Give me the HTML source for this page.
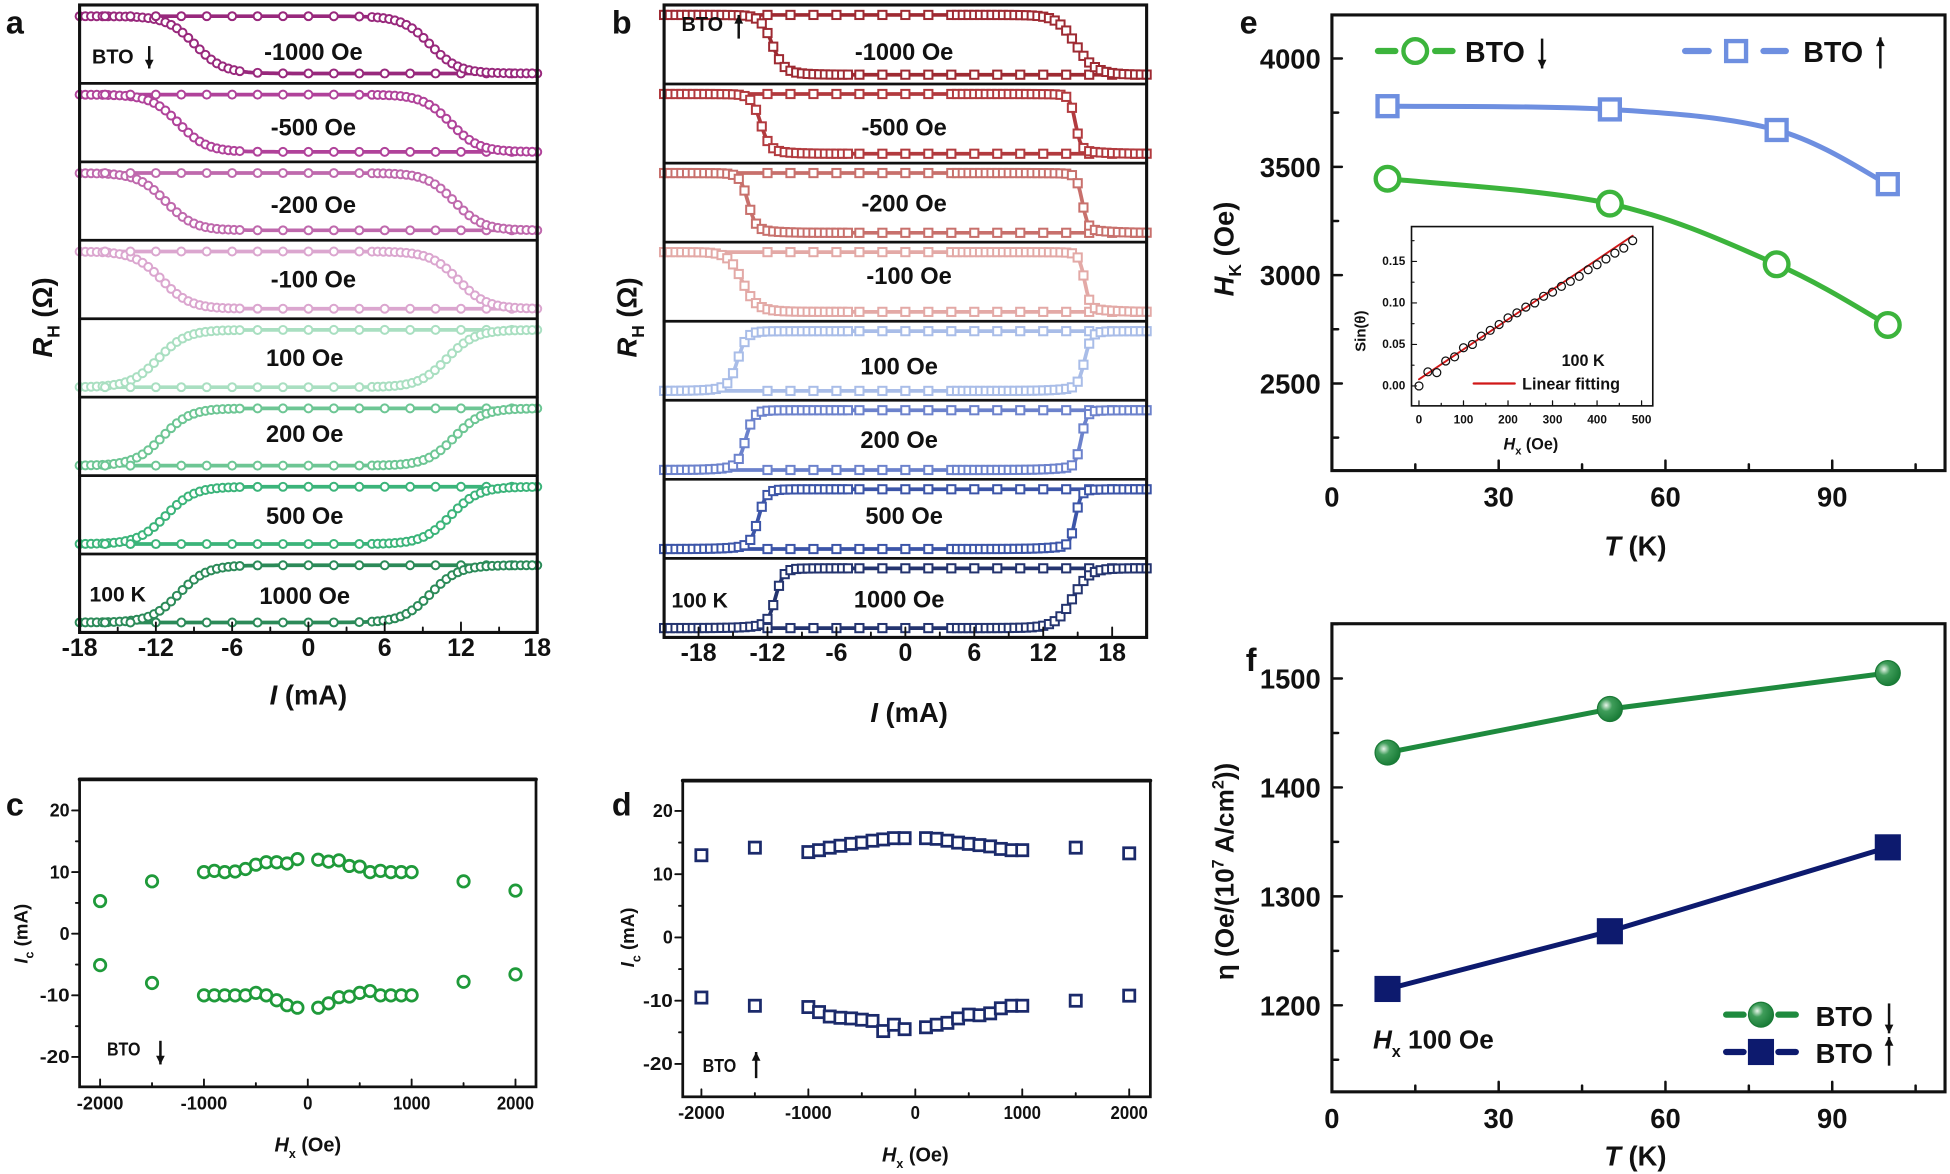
<!DOCTYPE html>
<html><head><meta charset="utf-8"><style>
html,body{margin:0;padding:0;background:#fff}
svg{display:block}
text{font-family:"Liberation Sans",Arial,sans-serif;font-weight:bold;fill:#111}
</style></head><body>
<svg id="s" xmlns="http://www.w3.org/2000/svg" width="1950" height="1174" viewBox="0 0 1568 943" preserveAspectRatio="none">
<defs>
<radialGradient id="gs" cx="0.35" cy="0.35" r="0.7"><stop offset="0" stop-color="#e8f5ea"/><stop offset="0.35" stop-color="#3f9d5a"/><stop offset="1" stop-color="#177a35"/></radialGradient>
</defs>
</svg>
<script>
var S=document.getElementById('s'),out='';
function T(x,y,s,fs,a,ex){out+='<text x="'+x+'" y="'+y+'" font-size="'+fs+'" text-anchor="'+(a||'middle')+'" '+(ex||'')+'>'+s+'</text>';}
function L(x1,y1,x2,y2,c,w){out+='<line x1="'+x1+'" y1="'+y1+'" x2="'+x2+'" y2="'+y2+'" stroke="'+(c||'#111')+'" stroke-width="'+(w||2)+'" stroke-linecap="round"/>';}
function R(x,y,w,h,st,sw,f){out+='<rect x="'+x+'" y="'+y+'" width="'+w+'" height="'+h+'" fill="'+(f||'none')+'" stroke="'+st+'" stroke-width="'+sw+'"/>';}
function C(x,y,r,st,sw,f){out+='<circle cx="'+x+'" cy="'+y+'" r="'+r+'" fill="'+(f||'#fff')+'" stroke="'+st+'" stroke-width="'+sw+'"/>';}
function P(pts,c,w){out+='<polyline fill="none" stroke="'+c+'" stroke-width="'+w+'" stroke-linejoin="round" points="'+pts.map(function(p){return p[0].toFixed(1)+','+p[1].toFixed(1)}).join(' ')+'"/>';}
function sig(x){return 1/(1+Math.exp(-x));}
function arrow(x,y1,y2,c){out+='<line x1="'+x+'" y1="'+y1+'" x2="'+x+'" y2="'+y2+'" stroke="'+(c||'#111')+'" stroke-width="2"/>';var d=y2>y1?-7:7;out+='<polygon points="'+(x-3.5)+','+(y2+d)+' '+(x+3.5)+','+(y2+d)+' '+x+','+y2+'" fill="'+(c||'#111')+'"/>';}

// ---------- Panel a ----------
(function(){
var f=[-1000,-500,-200,-100,100,200,500,1000];
var col=['#98287c','#b0429a','#bf69ad','#dba6cf','#a9dfc1','#6dc694','#3bb47a','#2b8a58'];
var cA=[-8.9,-10.2,-11.2,-11.5,-11.8,-11.5,-11.2,-10.2],cB=[9.6,11.2,11.5,11.8,10.9,11.5,11.2,9.6];
var lbl=['-1000 Oe','-500 Oe','-200 Oe','-100 Oe','100 Oe','200 Oe','500 Oe','1000 Oe'];
var ly=[41,102,164,224,287,348,414,478],lx=[252,252,252,252,245,245,245,245];
function X(I){return 64+(I+18)*368/36;}
for(var i=0;i<8;i++){
 var top=4+63*i,neg=f[i]<0,c=col[i];
 function Y(I,cc){var v=sig((I-cc)/1.1);if(neg)v=1-v;return top+55-v*46;}
 var a=[],b=[];for(var I=-18;I<=18.01;I+=0.25){a.push([X(I),Y(I,cA[i])]);b.push([X(I),Y(I,cB[i])]);}
 P(a,c,3);P(b,c,3);
 for(var I=-18;I<=-5;I+=0.45)C(X(I),Y(I,cA[i]),3.2,c,1.6);
 for(var I=-4;I<=18.01;I+=2)C(X(I),Y(I,cA[i]),3.2,c,1.6);
 for(var I=-16;I<=4.01;I+=2)C(X(I),Y(I,cB[i]),3.2,c,1.6);
 for(var I=5;I<=18.01;I+=0.45)C(X(I),Y(I,cB[i]),3.2,c,1.6);
 T(lx[i],ly[i]+7,lbl[i],19);
 if(i>0)L(64,top,432,top,'#111',2.2);
}
R(64,4,368,504,'#111',2.5);
for(var k=-18;k<=18;k+=3){var x=X(k);L(x,508,x,k%6==0?500:504,'#111',1.5);}
[-18,-12,-6,0,6,12,18].forEach(function(k){T(X(k),527,k,20);});
T(248,566,'<tspan font-style="italic">I</tspan> (mA)',22);
T(0,0,'<tspan font-style="italic">R</tspan><tspan font-size="14" dy="6">H</tspan><tspan dy="-6"> (Ω)</tspan>',22,'middle','transform="translate(42,255) rotate(-90)"');
T(74,51,'BTO',16,'start');arrow(120,37,55);
T(72,483,'100 K',17,'start');
T(12,27,'a',26);
})();

// ---------- Panel b ----------
(function(){
var col=['#9e2a32','#b23a3e','#c8706c','#e3a9a6','#a9bde8','#6c82cc','#3c55a8','#24346f'];
var f=[-1000,-500,-200,-100,100,200,500,1000];
var cA=[-11.6,-12.6,-13.7,-14.2,-14.6,-13.9,-12.8,-11.3],cB=[14.8,14.8,15.4,15.6,15.6,15.3,14.8,14.6];
var wA=[0.5,0.4,0.35,0.6,0.4,0.35,0.35,0.35],wB=[0.8,0.25,0.25,0.25,0.3,0.25,0.25,0.7];
var lbl=['-1000 Oe','-500 Oe','-200 Oe','-100 Oe','100 Oe','200 Oe','500 Oe','1000 Oe'];
var ly=[41,102,163,221,294,353,414,481],lx=[727,727,727,731,723,723,727,723];
function X(I){return 534+(I+21)*388/42;}
for(var i=0;i<8;i++){
 var top=4+63.5*i,neg=f[i]<0,c=col[i];
 function Y(I,cc,w){var v=sig((I-cc)/w)*0.93+0.07*sig((I-cc+(neg?-1.2:1.2))/1.2);if(neg)v=1-v;return top+56-v*48;}
 var a=[],b=[];for(var I=-21;I<=21.01;I+=0.2){a.push([X(I),Y(I,cA[i],wA[i])]);b.push([X(I),Y(I,cB[i],wB[i])]);}
 P(a,c,3);P(b,c,3);
 function Sq(x,y){R(x-3.3,y-3.3,6.6,6.6,c,1.6,'#fff');}
 for(var I=-21;I<=-5;I+=0.5)Sq(X(I),Y(I,cA[i],wA[i]));
 for(var I=-4;I<=21;I+=2)Sq(X(I),Y(I,cA[i],wA[i]));
 for(var I=-12;I<=4.01;I+=2)Sq(X(I),Y(I,cB[i],wB[i]));
 for(var I=4.5;I<=21;I+=0.5)Sq(X(I),Y(I,cB[i],wB[i]));
 T(lx[i],ly[i]+7,lbl[i],19);
 if(i>0)L(534,top,922,top,'#111',2.2);
}
R(534,4,388,508,'#111',2.5);
for(var k=-21;k<=21;k+=3){var x=X(k);L(x,512,x,k%6==0?504:508,'#111',1.5);}
[-18,-12,-6,0,6,12,18].forEach(function(k){T(X(k),531,k,20);});
T(731,580,'<tspan font-style="italic">I</tspan> (mA)',22);
T(0,0,'<tspan font-style="italic">R</tspan><tspan font-size="14" dy="6">H</tspan><tspan dy="-6"> (Ω)</tspan>',22,'middle','transform="translate(512,255) rotate(-90)"');
T(548,25,'BTO',16,'start');arrow(594,31,12);
T(540,488,'100 K',17,'start');
T(500,27,'b',26);
})();

// ---------- Panels c & d ----------
function cd(o){
 var X=function(h){return o.x0+h*o.sx;},Y=function(v){return o.y0-v*o.sy;};
 R(o.l,o.t,o.r-o.l,o.b-o.t,'#111',2.2);L(o.l,o.t,o.r,o.t,'#111',3);
 for(var v=-20;v<=20;v+=5){L(o.l,Y(v),o.l-(v%10==0?6:3),Y(v),'#111',1.5);}
 [-20,-10,0,10,20].forEach(function(v){T(o.l-8,Y(v)+5,v,15,'end','textLength="'+(String(v).length*8)+'" lengthAdjust="spacingAndGlyphs"');});
 [-2000,-1500,-1000,-500,0,500,1000,1500,2000].forEach(function(h){L(X(h),o.b,X(h),o.b-(h%1000==0?6:3),'#111',1.5);});
 [-2000,-1000,0,1000,2000].forEach(function(h){var s=String(h);T(X(h),o.b+18,s,15,'middle','textLength="'+(s.length*7.5)+'" lengthAdjust="spacingAndGlyphs"');});
 T(X(0),o.b+52,'<tspan font-style="italic">H</tspan><tspan font-size="10" dy="5">x</tspan><tspan dy="-5"> (Oe)</tspan>',16,'middle','font-weight="normal"');
 T(0,0,'<tspan font-style="italic">I</tspan><tspan font-size="10" dy="5">c</tspan><tspan dy="-5"> (mA)</tspan>',15,'middle','transform="translate('+o.yl+','+o.y0+') rotate(-90)"');
 var hs=[-2000,-1500,-1000,-900,-800,-700,-600,-500,-400,-300,-200,-100,100,200,300,400,500,600,700,800,900,1000,1500,2000];
 for(var i=0;i<hs.length;i++){[o.top[i],o.bot[i]].forEach(function(v){
  if(o.sq)R(X(hs[i])-4.5,Y(v)-4.5,9,9,o.c,2.2,'#fff');else C(X(hs[i]),Y(v),4.6,o.c,2.2);});}
}
cd({l:64,r:431,t:626,b:873,x0:247.5,sx:167/2000,y0:750,sy:4.95,c:'#1f9a3a',yl:22,
 top:[5.3,8.5,10,10.2,10,10.1,10.5,11.2,11.6,11.6,11.4,12.1,12,11.7,11.9,11,10.9,10,10.2,10,10,10,8.5,7],
 bot:[-5.1,-8,-10,-10,-10,-10,-10,-9.6,-10,-10.8,-11.6,-12,-12,-11.3,-10.3,-10.2,-9.6,-9.3,-10,-10,-10,-10,-7.8,-6.6]});
T(86,848,'BTO',15,'start','font-weight="normal" textLength="27" lengthAdjust="spacingAndGlyphs"');arrow(129,836,855);
T(12,655,'c',26);
cd({l:549,r:925,t:627,b:881,x0:736,sx:172/2000,y0:753,sy:5.08,c:'#1b2a6b',sq:1,yl:510,
 top:[13,14.2,13.5,13.8,14.2,14.5,14.8,15,15.3,15.5,15.7,15.7,15.7,15.6,15.3,15,14.8,14.6,14.4,14,13.8,13.8,14.2,13.3],
 bot:[-9.5,-10.8,-11,-11.8,-12.5,-12.7,-12.8,-13,-13.2,-14.8,-13.8,-14.5,-14.2,-13.8,-13.5,-12.8,-12.2,-12.3,-12,-11.2,-10.8,-10.8,-10,-9.2]});
T(565,861,'BTO',15,'start','font-weight="normal" textLength="27" lengthAdjust="spacingAndGlyphs"');arrow(608,866,845);
T(500,655,'d',26);

// ---------- Panel e ----------
function XT(t){return 1071+t*4.47;}
function YE(v){return 47+(4000-v)*0.174;}
function smooth(p){var d='M'+p[0][0]+','+p[0][1];for(var i=0;i<p.length-1;i++){var p0=p[i-1]||p[i],p1=p[i],p2=p[i+1],p3=p[i+2]||p2;
 d+=' C'+(p1[0]+(p2[0]-p0[0])/6)+','+(p1[1]+(p2[1]-p0[1])/6)+' '+(p2[0]-(p3[0]-p1[0])/6)+','+(p2[1]-(p3[1]-p1[1])/6)+' '+p2[0]+','+p2[1];}return d;}
(function(){
 R(1071,12,493,366,'#111',2.5);
 for(var v=2250;v<=4250;v+=250){var y=YE(v);if(y>12&&y<378)L(1071,y,1071+(v%500==0?8:5),y,'#111',2);}
 [2500,3000,3500,4000].forEach(function(v){T(1062,YE(v)+8,v,22,'end');});
 for(var t=15;t<=105;t+=15)L(XT(t),378,XT(t),378-(t%30==0?8:5),'#111',2);
 [0,30,60,90].forEach(function(t){T(XT(t),407,t,22);});
 T(1315,446,'<tspan font-style="italic">T</tspan> (K)',22);
 T(0,0,'<tspan font-style="italic">H</tspan><tspan font-size="14" dy="6">K</tspan><tspan dy="-6"> (Oe)</tspan>',22,'middle','transform="translate(992,200) rotate(-90)"');
 var ts=[10,50,80,100],bl=[3780,3765,3670,3420],gr=[3445,3330,3050,2770];
 var pb=ts.map(function(t,i){return[XT(t),YE(bl[i])]}),pg=ts.map(function(t,i){return[XT(t),YE(gr[i])]});
 out+='<path d="'+smooth(pb)+'" fill="none" stroke="#6e8fe0" stroke-width="4"/>';
 out+='<path d="'+smooth(pg)+'" fill="none" stroke="#3cb43c" stroke-width="4"/>';
 var IX=function(h){return 1141+h*0.358},IY=function(s){return 310-s*666.7};
 R(1135,182,194,144,'#111',1.3,'#fff');
 for(var h=0;h<=500;h+=50)L(IX(h),326,IX(h),326-(h%100==0?4:2),'#111',1);
 for(var h=0;h<=500;h+=100)T(IX(h),340,h,9.5);
 for(var s=0;s<=0.175;s+=0.025)L(1135,IY(s),1135+(Math.round(s*1000)%50==0?4:2),IY(s),'#111',1);
 [0,0.05,0.1,0.15].forEach(function(s){T(1130,IY(s)+3,s.toFixed(2),9.5,'end');});
 T(0,0,'Sin(θ)',12,'middle','transform="translate(1098,266) rotate(-90)"');
 T(1231,361,'<tspan font-style="italic">H</tspan><tspan font-size="9" dy="4">x</tspan><tspan dy="-4"> (Oe)</tspan>',13,'middle','font-weight="normal"');
 L(IX(0),IY(0.008),IX(480),IY(0.181),'#d01818',1.5);
 var sv=[0,0.017,0.016,0.03,0.035,0.046,0.05,0.06,0.067,0.074,0.082,0.088,0.095,0.1,0.108,0.113,0.12,0.126,0.132,0.14,0.146,0.153,0.16,0.166,0.175];
 for(var i=0;i<sv.length;i++)C(IX(i*20),IY(sv[i]),3.2,'#111',1,'none');
 T(1273,294,'100 K',13);
 L(1185,308,1218,308,'#d01818',1.8);T(1224,313,'Linear fitting',13,'start');
 pb.forEach(function(p){R(p[0]-8,p[1]-8,16,16,'#6e8fe0',3.5,'#fff');});
 pg.forEach(function(p){C(p[0],p[1],9.5,'#3cb43c',3.5);});
 // legend
 L(1108,41,1122,41,'#3cb43c',5);L(1154,41,1168,41,'#3cb43c',5);C(1138,41,9.5,'#3cb43c',3.5);T(1178,50,'BTO',23,'start','font-weight="normal"');arrow(1240,31,55);
 L(1355,41,1374,41,'#6e8fe0',5);L(1418,41,1436,41,'#6e8fe0',5);R(1388,33,16,16,'#6e8fe0',3.5,'#fff');T(1450,50,'BTO',23,'start','font-weight="normal"');arrow(1512,55,30);
 T(1004,27,'e',26);
})();

// ---------- Panel f ----------
(function(){
 function YF(v){return 545+(1500-v)*0.875;}
 R(1071,501,493,376,'#111',2.5);
 for(var v=1150;v<=1550;v+=50){var y=YF(v);if(y>501&&y<877)L(1071,y,1071+(v%100==0?8:5),y,'#111',2);}
 [1200,1300,1400,1500].forEach(function(v){T(1062,YF(v)+8,v,22,'end');});
 for(var t=15;t<=105;t+=15)L(XT(t),877,XT(t),877-(t%30==0?8:5),'#111',2);
 [0,30,60,90].forEach(function(t){T(XT(t),906,t,22);});
 T(1315,936,'<tspan font-style="italic">T</tspan> (K)',22);
 T(0,0,'η (Oe/(10<tspan font-size="13" dy="-8">7</tspan><tspan dy="8"> A/cm</tspan><tspan font-size="13" dy="-8">2</tspan><tspan dy="8">))</tspan>',21,'middle','transform="translate(992,700) rotate(-90)"');
 var ts=[10,50,100],g=[1432,1472,1505],n=[1215,1268,1345];
 P(ts.map(function(t,i){return[XT(t),YF(g[i])]}),'#1e8a3e',4);
 P(ts.map(function(t,i){return[XT(t),YF(n[i])]}),'#0d1a6e',4);
 ts.forEach(function(t,i){C(XT(t),YF(g[i]),10,'#1a7a36',1,'url(#gs)');R(XT(t)-10,YF(n[i])-10,20,20,'#0d1a6e',1,'#0d1a6e');});
 L(1388,815,1402,815,'#1e8a3e',5);L(1430,815,1444,815,'#1e8a3e',5);C(1416,815,10,'#1a7a36',1,'url(#gs)');T(1460,824,'BTO',22,'start','font-weight="normal"');arrow(1519,806,830);
 L(1388,845,1402,845,'#0d1a6e',5);L(1430,845,1444,845,'#0d1a6e',5);R(1406,835,20,20,'#0d1a6e',1,'#0d1a6e');T(1460,854,'BTO',22,'start','font-weight="normal"');arrow(1519,856,833);
 T(1104,842,'<tspan font-style="italic">H</tspan><tspan font-size="13" dy="7">x</tspan><tspan dy="-7"> 100 Oe</tspan>',21,'start','font-weight="normal"');
 T(1006,539,'f',26);
})();
S.insertAdjacentHTML('beforeend',out);
</script>
</body></html>
